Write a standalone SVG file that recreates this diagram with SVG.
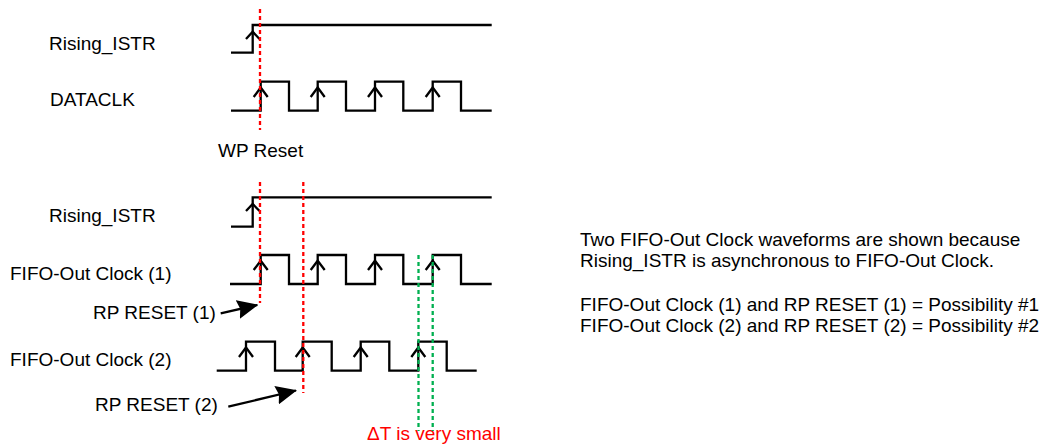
<svg xmlns="http://www.w3.org/2000/svg" width="1045" height="444" viewBox="0 0 1045 444">
<style>
text{font-family:"Liberation Sans",Arial,sans-serif;font-size:19px;fill:#000}
.red{fill:#ff0000}
.wave{fill:none;stroke:#000;stroke-width:2.3}
.caret{fill:none;stroke:#000;stroke-width:2.3}
.rdash{stroke:#ff0000;stroke-width:2.3;stroke-dasharray:4 3;fill:none}
.gdash{stroke:#00b050;stroke-width:2.3;stroke-dasharray:4 3;fill:none}
.arr{stroke:#000;stroke-width:2.3;fill:none}
</style>
<defs>
<marker id="ah" viewBox="0 0 21 19" refX="20" refY="9.5" markerWidth="21" markerHeight="19" markerUnits="userSpaceOnUse" orient="auto">
<path d="M0,0 L21,9.5 L0,19 L2.5,9.5 z" fill="#000"/>
</marker>
</defs>
<g id="labels">
<text x="49" y="50">Rising_ISTR</text>
<text x="50" y="106">DATACLK</text>
<text x="218" y="157">WP Reset</text>
<text x="49" y="222">Rising_ISTR</text>
<text x="10" y="280">FIFO-Out Clock (1)</text>
<text x="93" y="319">RP RESET (1)</text>
<text x="10" y="366">FIFO-Out Clock (2)</text>
<text x="95" y="411">RP RESET (2)</text>
<text class="red" x="367" y="440">ΔT is very small</text>
</g>
<g id="note">
<text x="580" y="246">Two FIFO-Out Clock waveforms are shown because</text>
<text x="580" y="267">Rising_ISTR is asynchronous to FIFO-Out Clock.</text>
<text x="580" y="311">FIFO-Out Clock (1) and RP RESET (1) = Possibility #1</text>
<text x="580" y="332">FIFO-Out Clock (2) and RP RESET (2) = Possibility #2</text>
</g>
<g id="wave-rising1">
<path class="wave" d="M231,52.7 H252.7 V25 H491.7"/>
<path class="caret" d="M246,39 L252.7,31.7 L259.5,39"/>
</g>
<g id="wave-dataclk">
<path class="wave" d="M231,110.7 H260.7 V81.7 H289 V110.7 H317.7 V81.7 H346 V110.7 H375 V81.7 H403.3 V110.7 H432.7 V81.7 H461 V110.7 H491.7"/>
<path class="caret" d="M253.7,97 L260.7,87.5 L267.7,97 M310.7,97 L317.7,87.5 L324.7,97 M368,97 L375,87.5 L382,97 M425.7,97 L432.7,87.5 L439.7,97"/>
</g>
<g id="wave-rising2">
<path class="wave" d="M231,226.7 H252.7 V197.3 H491.7"/>
<path class="caret" d="M246,211 L252.7,204 L259.5,211"/>
</g>
<g id="wave-fifo1">
<path class="wave" d="M230,284 H260.7 V255 H289 V284 H317.7 V255 H346 V284 H375 V255 H403.3 V284 H432.7 V255 H461 V284 H491.7"/>
<path class="caret" d="M253.7,270 L260.7,260.7 L267.7,270 M310.7,270 L317.7,260.7 L324.7,270 M368,270 L375,260.7 L382,270 M425.7,270 L432.7,260.7 L439.7,270"/>
</g>
<g id="wave-fifo2">
<path class="wave" d="M216.7,370.7 H246 V341.7 H275 V370.7 H302.7 V341.7 H331.7 V370.7 H360.7 V341.7 H389.3 V370.7 H418.3 V341.7 H446.7 V370.7 H476.7"/>
<path class="caret" d="M239,357 L246,347.5 L253,357 M295.7,357 L302.7,347.5 L309.7,357 M353.7,357 L360.7,347.5 L367.7,357 M411.3,357 L418.3,347.5 L425.3,357"/>
</g>
<g id="connectors">
<line class="rdash" x1="260" y1="9" x2="260" y2="130"/>
<line class="rdash" x1="260" y1="182" x2="260" y2="303"/>
<line class="rdash" x1="303.3" y1="182" x2="303.3" y2="393"/>
<line class="gdash" x1="418.5" y1="255" x2="418.5" y2="431"/>
<line class="gdash" x1="432.7" y1="255" x2="432.7" y2="431"/>
<line class="arr" x1="220.7" y1="313.3" x2="257.3" y2="305" marker-end="url(#ah)"/>
<line class="arr" x1="228.3" y1="406.7" x2="296" y2="390.5" marker-end="url(#ah)"/>
</g>
</svg>
